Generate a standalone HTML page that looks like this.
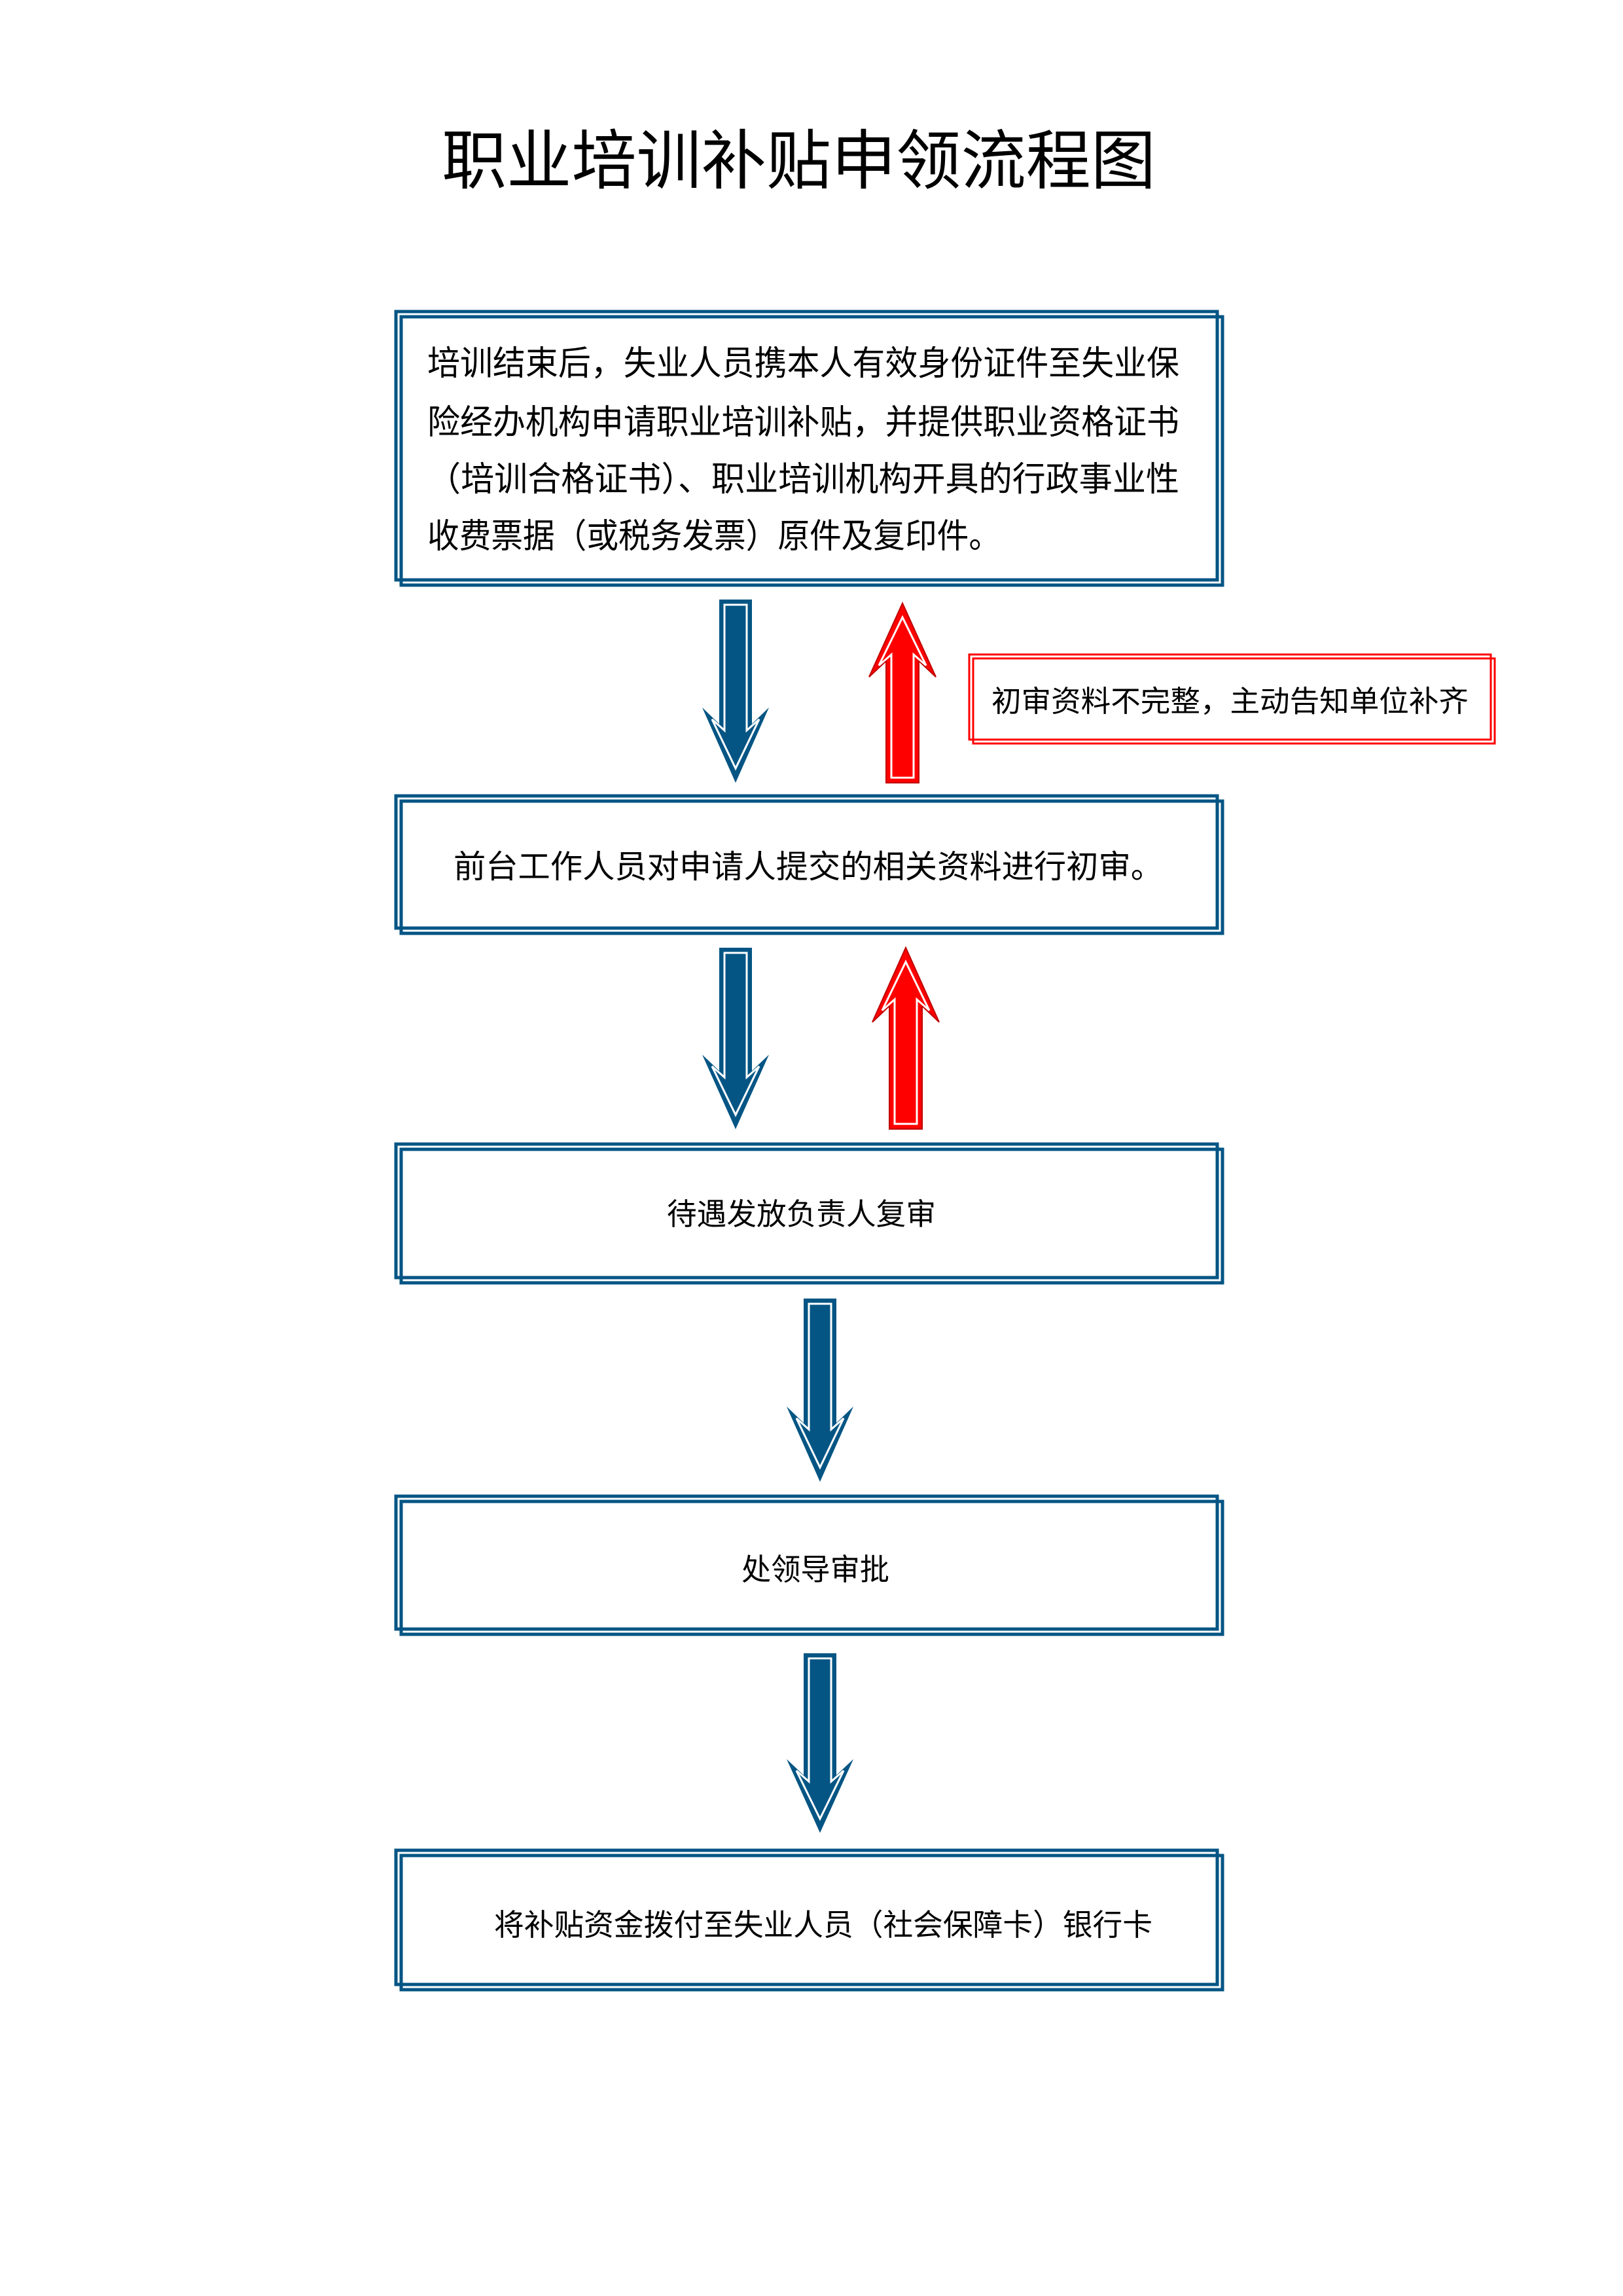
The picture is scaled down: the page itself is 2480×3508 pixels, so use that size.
<!DOCTYPE html>
<html><head><meta charset="utf-8"><style>
html,body{margin:0;padding:0;background:#fff}
svg{display:block}
text{font-family:"Liberation Sans","Noto Sans CJK SC",sans-serif;fill:#000}
</style></head><body>
<svg width="2480" height="3508" viewBox="0 0 2480 3508" xmlns="http://www.w3.org/2000/svg">
<defs>
<g id="dn">
<path d="M-25,0 H25 V190 L51,165 L0,280 L-51,165 L-25,190 Z" fill="#045584"/>
<path d="M-17,8 H17 V200 L36,183 L0,258 L-36,183 L-17,200 Z" fill="none" stroke="#fff" stroke-width="3"/>
</g>
<g id="up">
<path d="M-25,0 H25 V190 L51,165 L0,280 L-51,165 L-25,190 Z" fill="#ff0000" stroke="#c00000" stroke-width="2"/>
<path d="M-17,8 H17 V200 L36,183 L0,258 L-36,183 L-17,200 Z" fill="none" stroke="#fff" stroke-width="3"/>
</g>
</defs>
<text x="675" y="280" font-size="99" textLength="1091" lengthAdjust="spacingAndGlyphs">职业培训补贴申领流程图</text>

<g fill="none" stroke="#045584" stroke-width="5">
<rect x="605" y="476" width="1255" height="410"/><rect x="613" y="484" width="1255" height="410"/>
<rect x="605" y="1216" width="1255" height="202"/><rect x="613" y="1224" width="1255" height="202"/>
<rect x="605" y="1748" width="1255" height="204"/><rect x="613" y="1756" width="1255" height="204"/>
<rect x="605" y="2286" width="1255" height="203"/><rect x="613" y="2294" width="1255" height="203"/>
<rect x="605" y="2827" width="1255" height="205"/><rect x="613" y="2835" width="1255" height="205"/>
</g>
<g fill="none" stroke="#ff0000" stroke-width="3">
<rect x="1481" y="1000" width="797" height="130"/><rect x="1487" y="1006" width="797" height="130"/>
</g>

<g font-size="52">
<text x="653" y="573" textLength="1149" lengthAdjust="spacingAndGlyphs">培训结束后，失业人员携本人有效身份证件至失业保</text>
<text x="653" y="663" textLength="1149" lengthAdjust="spacingAndGlyphs">险经办机构申请职业培训补贴，并提供职业资格证书</text>
<text x="653" y="750" textLength="1149" lengthAdjust="spacingAndGlyphs">（培训合格证书）、职业培训机构开具的行政事业性</text>
<text x="653" y="837" textLength="876" lengthAdjust="spacingAndGlyphs">收费票据（或税务发票）原件及复印件。</text>
</g>
<text x="1515" y="1087" font-size="45" textLength="729" lengthAdjust="spacingAndGlyphs">初审资料不完整，主动告知单位补齐</text>
<text x="693" y="1341" font-size="49" textLength="1084" lengthAdjust="spacingAndGlyphs">前台工作人员对申请人提交的相关资料进行初审。</text>
<text x="1019" y="1871" font-size="46" textLength="411" lengthAdjust="spacingAndGlyphs">待遇发放负责人复审</text>
<text x="1133" y="2414" font-size="46" textLength="226" lengthAdjust="spacingAndGlyphs">处领导审批</text>
<text x="755" y="2957" font-size="46" textLength="1006" lengthAdjust="spacingAndGlyphs">将补贴资金拨付至失业人员（社会保障卡）银行卡</text>

<use href="#dn" transform="translate(1124,916)"/>
<use href="#dn" transform="translate(1124,1448) scale(1,0.99)"/>
<use href="#dn" transform="translate(1253,1984)"/>
<use href="#dn" transform="translate(1253,2526) scale(1,0.98)"/>
<use href="#up" transform="translate(1379,1196) scale(1,-0.98)"/>
<use href="#up" transform="translate(1384,1725) scale(1,-0.99)"/>
</svg>
</body></html>
